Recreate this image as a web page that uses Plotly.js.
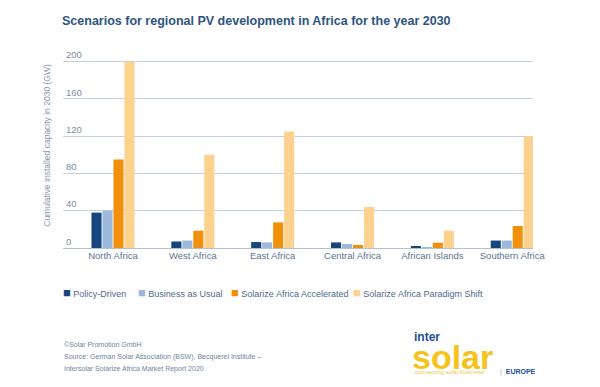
<!DOCTYPE html>
<html>
<head>
<meta charset="utf-8">
<script src="https://cdn.plot.ly/plotly-3.0.1.min.js"></script>
<style>html,body{margin:0;padding:0;background:#fff;}#chart{width:600px;height:387px;}</style>
</head>
<body>
<div id="chart"></div>
<script>
const regions = ["North Africa", "West Africa", "East Africa", "Central Africa", "African Islands", "Southern Africa"];
const seriesNames = ["Policy-Driven", "Business as Usual", "Solarize Africa Accelerated", "Solarize Africa Paradigm Shift"];
const policyDriven = [38, 7, 6.4, 6, 1.4, 8];
const businessAsUsual = [40, 8, 6, 4.3, 0.6, 8];
const accelerated = [95, 18.5, 27.5, 3.2, 5.7, 23.6];
const paradigmShift = [200, 100, 125, 44, 18.5, 120];
const yTicks = [0, 40, 80, 120, 160, 200];

const colors = ["#17467e", "#9bb9da", "#f1900c", "#fdd28f"];
const FONT = "'Liberation Sans', Arial, sans-serif";

const values = [policyDriven, businessAsUsual, accelerated, paradigmShift];
const traces = values.map((v, i) => ({
  type: 'bar', name: seriesNames[i], x: regions, y: v,
  marker: {color: colors[i]}, showlegend: false
}));

// plot area: x 63..533, y from 42.7 (value 220) down to 248 (value 0)
const L = 63, R = 533, T = 42.7, B = 248;
const px = x => (x - L) / (R - L);
const py = y => (B - y) / (B - T);

const legendX = [61, 136, 229, 351];
const annotations = seriesNames.map((n, i) => ({
  xref: 'paper', yref: 'paper', x: px(legendX[i]), y: py(293), xanchor: 'left', yanchor: 'middle',
  showarrow: false, text: '<span style="color:' + colors[i] + ';font-size:13px">■</span> ' + n,
  font: {family: FONT, size: 9, color: '#4f6a8c'}
}));
const footer = ["©Solar Promotion GmbH", "Source: German Solar Association (BSW), Becquerel Institute –", "Intersolar Solarize Africa Market Report 2020"];
const footY = [345, 357, 369];
footer.forEach((t, i) => annotations.push({
  xref: 'paper', yref: 'paper', x: px(62), y: py(footY[i]), xanchor: 'left', yanchor: 'middle',
  showarrow: false, text: t, font: {family: FONT, size: 7, color: '#6f84a0'}
}));
annotations.push({xref: 'paper', yref: 'paper', x: px(412), y: py(337), xanchor: 'left', yanchor: 'middle', showarrow: false,
  text: '<b>inter</b>', font: {family: FONT, size: 12, color: '#1d4f96'}});
annotations.push({xref: 'paper', yref: 'paper', x: px(410), y: py(357), xanchor: 'left', yanchor: 'middle', showarrow: false,
  text: '<b>solar</b>', font: {family: FONT, size: 34, color: '#f6c21c'}});
annotations.push({xref: 'paper', yref: 'paper', x: px(413), y: py(372), xanchor: 'left', yanchor: 'middle', showarrow: false,
  text: 'connecting solar business', font: {family: FONT, size: 6, color: '#f3c447'}});
annotations.push({xref: 'paper', yref: 'paper', x: px(498), y: py(372), xanchor: 'left', yanchor: 'middle', showarrow: false,
  text: '<span style="color:#9fb0c4">|</span>  <b>EUROPE</b>', font: {family: FONT, size: 7, color: '#1d4f96'}});

const layout = {
  width: 600, height: 387,
  margin: {l: L, r: 600 - R, t: T, b: 387 - B, pad: 0},
  paper_bgcolor: '#ffffff', plot_bgcolor: '#ffffff',
  barmode: 'group', bargap: 0.45, bargroupgap: 0.08,
  title: {text: '<b>Scenarios for regional PV development in Africa for the year 2030</b>',
    x: 62 / 600, xref: 'container', xanchor: 'left', y: 1 - 21 / 387, yanchor: 'middle',
    font: {family: FONT, size: 12.5, color: '#2e5482'}},
  xaxis: {
    range: [-0.626, 5.26], showgrid: false, showline: false, zeroline: false,
    ticks: '', tickfont: {family: FONT, size: 9.5, color: '#5b7595'}
  },
  yaxis: {
    range: [0, 220], tickvals: yTicks, ticktext: yTicks.map(String),
    ticklabelposition: 'inside top', showline: false,
    gridcolor: '#c3d0dd', gridwidth: 1, zeroline: true, zerolinecolor: '#b3c1cf', zerolinewidth: 1,
    tickfont: {family: FONT, size: 9.5, color: '#7d8ea5'},
    title: {text: 'Cumulative installed capacity in 2030 (GW)', standoff: 14,
      font: {family: FONT, size: 8.5, color: '#8597ad'}}
  },
  annotations: annotations,
  font: {family: FONT}
};

Plotly.newPlot('chart', traces, layout, {displayModeBar: false, responsive: false});
</script>
</body>
</html>
